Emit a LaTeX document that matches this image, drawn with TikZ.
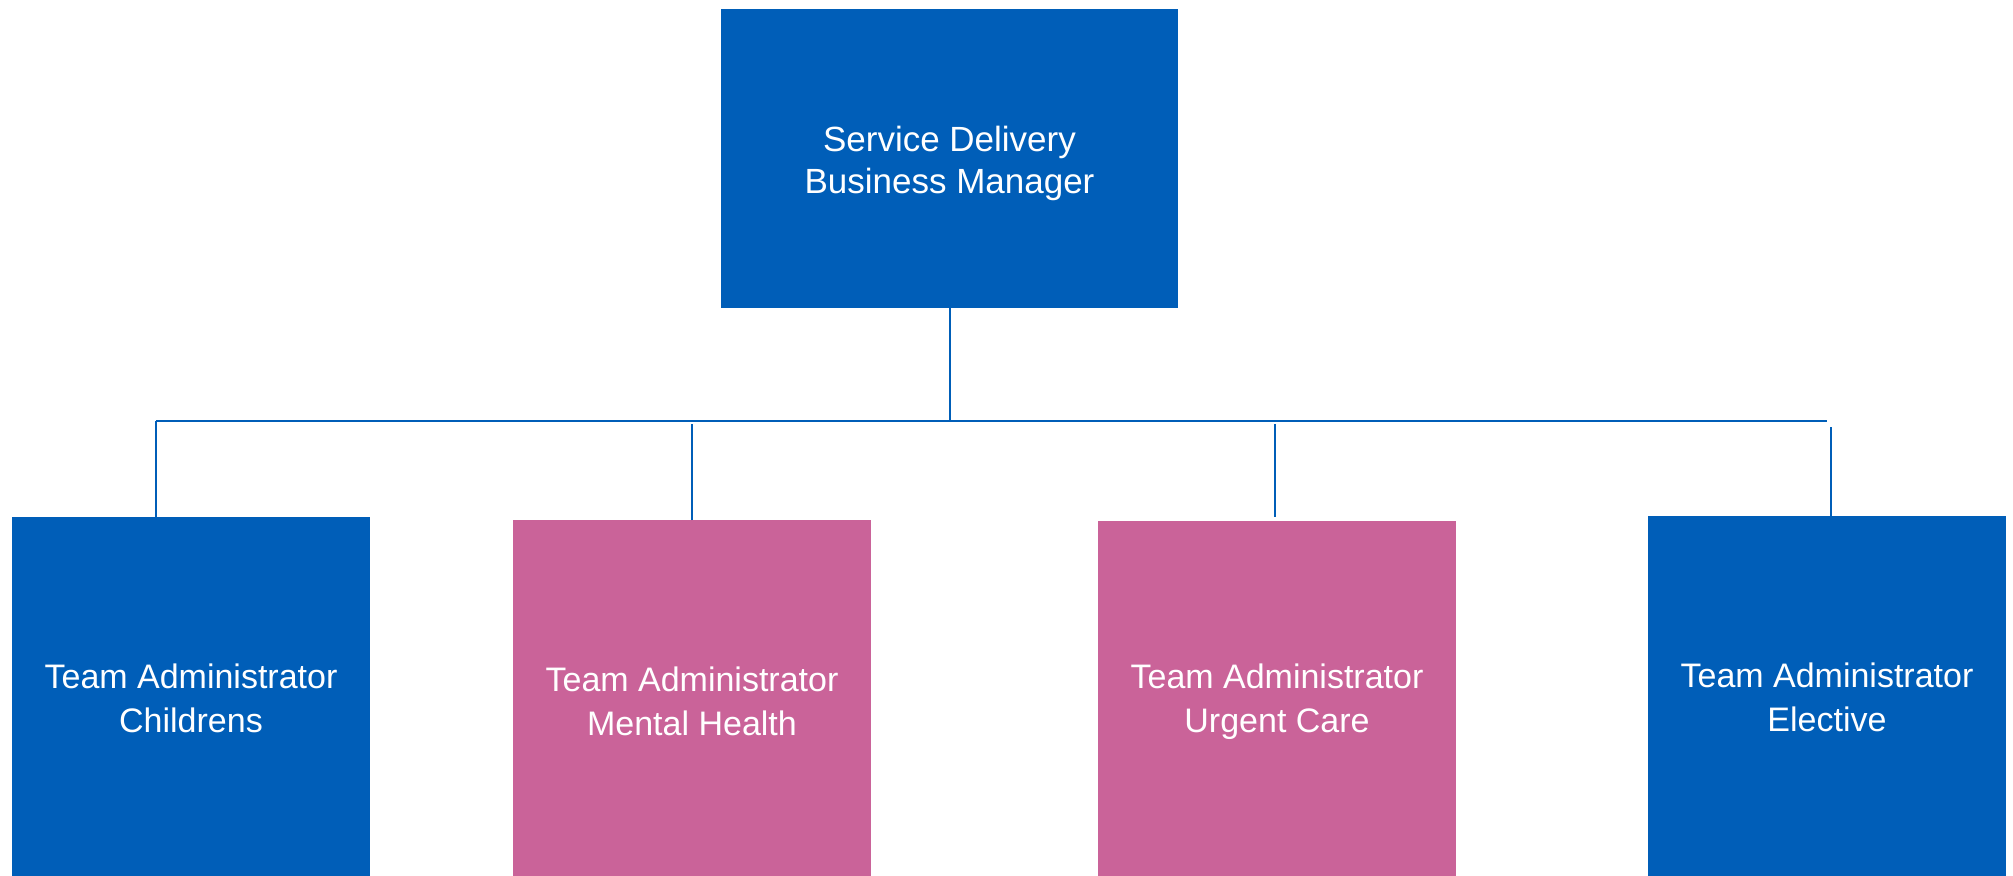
\documentclass[tikz,border=0pt]{standalone}
\usepackage{fontspec}
\setmainfont{Liberation Sans}
\usetikzlibrary{calc}
\definecolor{nhsblue}{RGB}{0,94,184}
\definecolor{mauve}{RGB}{202,99,153}

\begin{document}
\begin{tikzpicture}[x=0.5pt,y=-0.5pt,
    postbox/.style={fill=#1,text=white,align=center,inner sep=0pt,
      minimum width=179pt,minimum height=181pt,font=\fontsize{17}{22}\selectfont},
    link/.style={draw=nhsblue,line width=1pt}]
    \clip (0,0) rectangle (2013,876);
    % manager
    \node[postbox=nhsblue,minimum width=228.5pt,minimum height=149.5pt,
      font=\fontsize{17.5}{21}\selectfont] (sdbm) at (949.5,158.5) {\rule{0pt}{18pt}Service Delivery\\Business Manager};
    % teams
    \node[postbox=nhsblue] (child) at (191,698) {Team Administrator\\Childrens};
    \node[postbox=mauve] (mental) at (692,701.5) {Team Administrator\\Mental Health};
    \node[postbox=mauve] (urgent) at (1277,702) {Team Administrator\\Urgent Care};
    \node[postbox=nhsblue] (elective) at (1827,697) {Team Administrator\\Elective};
    % connectors
    \coordinate (busL) at (156,421.5);
    \coordinate (busR) at (1827,421.5);
    \draw[link] (sdbm.south) -- (sdbm.south |- busL);
    \draw[link] (busL) -- (busR);
    \draw[link] (busL) -- (busL |- child.north);
    \draw[link] (mental.north) -- ++(0,-96);
    \draw[link] ($(urgent.north)+(-2,-4)$) -- ++(0,-93);
    \draw[link] ($(elective.north)+(4,0)$) -- ++(0,-89);
\end{tikzpicture}
\end{document}
